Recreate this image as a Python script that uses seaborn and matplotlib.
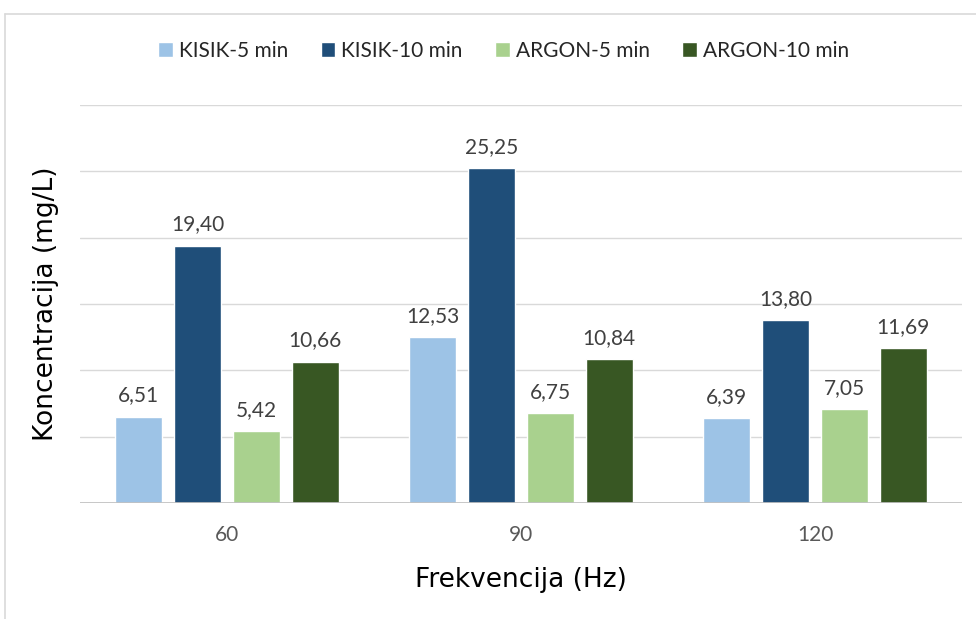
import pandas as pd
import matplotlib.pyplot as plt
import seaborn as sns
from matplotlib.lines import Line2D

# chart values
frequencies = ['60', '90', '120']
series_names = ['KISIK-5 min', 'KISIK-10 min', 'ARGON-5 min', 'ARGON-10 min']
kisik_5 = [6.51, 12.53, 6.39]
kisik_10 = [19.40, 25.25, 13.80]
argon_5 = [5.42, 6.75, 7.05]
argon_10 = [10.66, 10.84, 11.69]
colors = ['#9DC3E6', '#1F4E79', '#A9D18E', '#385723']

rows = []
for name, vals in zip(series_names, [kisik_5, kisik_10, argon_5, argon_10]):
    for f, v in zip(frequencies, vals):
        rows.append({'Frekvencija': f, 'Serija': name, 'Vrijednost': v})
df = pd.DataFrame(rows)

sns.set_style('white')
plt.rcParams['font.family'] = ['Lato', 'DejaVu Sans']

fig = plt.figure(figsize=(9.76, 6.19), dpi=100)
ax = fig.add_axes([0.082, 0.1874, 0.9037, 0.643])

sns.barplot(data=df, x='Frekvencija', y='Vrijednost', hue='Serija',
            order=frequencies, hue_order=series_names, palette=colors, saturation=1,
            width=0.8, gap=0.2, ax=ax, legend=True, errorbar=None)

for cont in ax.containers:
    ax.bar_label(cont, labels=[f'{b.get_height():.2f}'.replace('.', ',') for b in cont],
                 padding=8, fontsize=15, color='#404040')

ax.set_ylim(0, 30)
ax.set_yticks(range(0, 31, 5))
ax.set_yticklabels([])
ax.tick_params(axis='y', length=0)
ax.tick_params(axis='x', length=0, labelsize=15, labelcolor='#595959', pad=16)
ax.grid(axis='y', color='#D9D9D9', linewidth=1)
ax.set_axisbelow(True)
for s in ax.spines.values():
    s.set_visible(False)
ax.axhline(0, color='#BFBFBF', linewidth=1.2, zorder=3)

ax.set_xlabel('Frekvencija (Hz)', fontsize=19, family='DejaVu Sans', color='black', labelpad=16)
ax.set_ylabel('Koncentracija (mg/L)', fontsize=19, family='DejaVu Sans', color='black', labelpad=12)

ax.legend(loc='center', bbox_to_anchor=(0.516, 0.918), bbox_transform=fig.transFigure,
          ncol=4, frameon=False, fontsize=15, handlelength=0.7, handleheight=0.7,
          handletextpad=0.3, columnspacing=1.55, labelcolor='#262626')

# light frame of the chart area
fig.add_artist(Line2D([4.5 / 976, 4.5 / 976], [0, 1 - 14 / 619], color='#D9D9D9', lw=1.2,
                      transform=fig.transFigure))
fig.add_artist(Line2D([4.5 / 976, 1], [1 - 14 / 619, 1 - 14 / 619], color='#D9D9D9', lw=1.2,
                      transform=fig.transFigure))

plt.savefig('out.png', dpi=100)
